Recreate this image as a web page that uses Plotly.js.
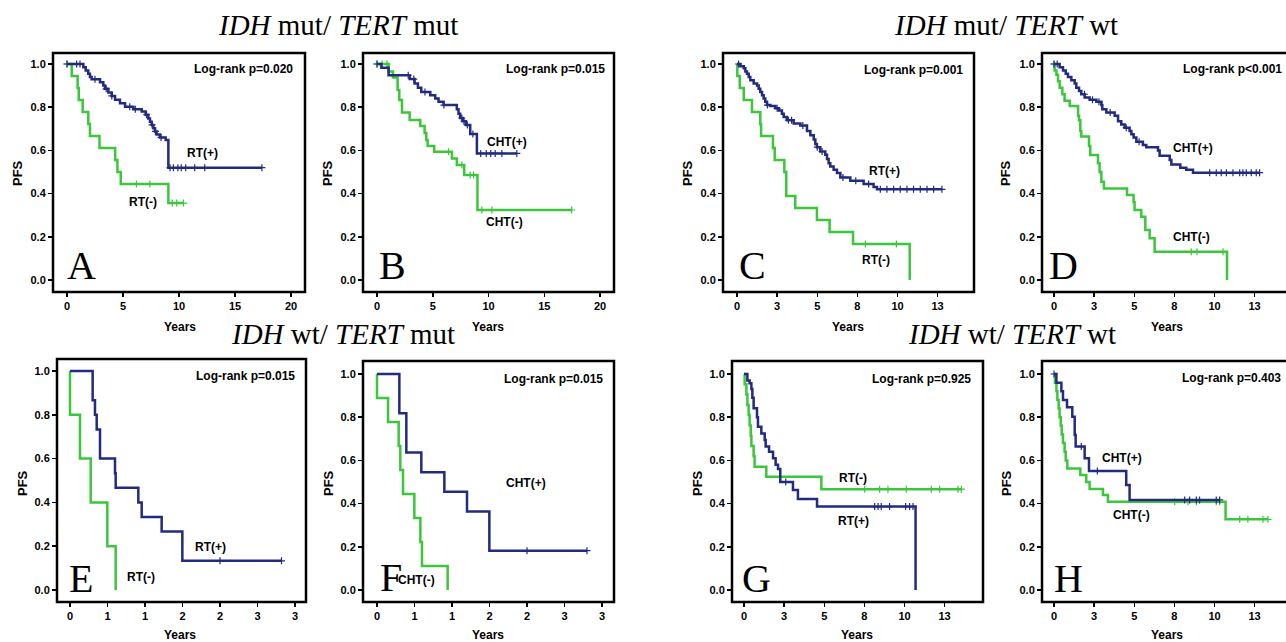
<!DOCTYPE html>
<html>
<head>
<meta charset="utf-8">
<script src="https://cdn.plot.ly/plotly-3.0.1.min.js"></script>
<style>html,body{margin:0;padding:0;background:#fff}#chart{width:1286px;height:642px}</style>
</head>
<body>
<div id="chart"></div>
<script>
// ---------------- DATA ----------------
// Panel A: IDH mut / TERT mut, RT
const A_pos_t = [1.46,1.67,1.9,2.05,2.2,2.95,3.24,3.39,3.69,3.99,4.29,4.73,5.18,5.92,6.67,7.02,7.26,7.41,7.56,7.71,7.86,8.0,8.3,8.81,9.05];
const A_pos_s = [0.985,0.97,0.955,0.94,0.929,0.915,0.9,0.885,0.868,0.852,0.835,0.818,0.802,0.79,0.78,0.765,0.748,0.733,0.718,0.703,0.688,0.674,0.66,0.648,0.52];
const A_pos_c = [0,0.86,1.16,2.5,3.5,4.0,5.6,6.1,7.1,7.6,7.9,8.4,9.2,9.5,9.9,10.2,10.6,11.4,12.3,17.4];
const A_neg_t = [0.42,0.95,1.05,1.4,1.9,2.05,2.9,4.3,4.5,4.8,9.05];
const A_neg_s = [0.944,0.889,0.833,0.778,0.722,0.667,0.611,0.556,0.5,0.444,0.356];
const A_neg_c = [0,6.2,7.4,9.4,9.8,10.4];
// Panel B: IDH mut / TERT mut, CHT
const B_pos_t = [0.39,1.04,2.93,3.37,3.67,3.97,4.78,5.22,5.52,5.97,7.16,7.31,7.46,7.7,7.97,8.36,8.96];
const B_pos_s = [0.983,0.948,0.93,0.91,0.89,0.87,0.855,0.84,0.825,0.81,0.79,0.77,0.75,0.735,0.718,0.676,0.586];
const B_pos_c = [0,2.8,3.3,4.3,6.0,7.6,7.8,8.1,8.6,9.3,9.8,10.2,10.6,11.2,12.54];
const B_neg_t = [1.04,1.43,1.85,2.0,2.24,2.93,3.88,4.27,4.42,4.54,5.13,6.72,7.16,7.82,9.01];
const B_neg_s = [0.965,0.938,0.88,0.833,0.775,0.741,0.713,0.68,0.648,0.62,0.594,0.563,0.532,0.486,0.324];
const B_neg_c = [0,0.45,0.9,6.42,7.61,8.36,8.66,9.4,10.3,17.46];
// Panel C: IDH mut / TERT wt, RT
const C_pos_t = [0.21,0.42,0.52,0.62,0.73,0.83,1.04,1.25,1.35,1.45,1.56,1.66,1.76,1.87,2.08,2.39,2.6,2.8,2.91,3.11,3.53,3.95,4.36,4.57,4.78,4.88,4.98,5.19,5.5,5.61,5.71,5.81,6.02,6.23,6.44,7.06,7.89,8.51,8.72];
const C_pos_s = [0.99,0.98,0.965,0.955,0.94,0.925,0.91,0.9,0.885,0.87,0.855,0.84,0.825,0.81,0.805,0.795,0.785,0.77,0.755,0.74,0.725,0.715,0.69,0.67,0.65,0.63,0.615,0.595,0.58,0.56,0.54,0.525,0.51,0.495,0.475,0.46,0.445,0.43,0.42];
const C_pos_c = [0.1,1.9,2.5,3.2,3.4,4.1,5.0,5.3,6.6,7.4,8.2,8.93,9.34,9.76,10.17,10.59,11.0,11.42,11.84,12.25,12.77];
const C_neg_t = [0.02,0.17,0.42,0.93,1.45,1.5,2.24,2.35,2.95,3.07,3.63,4.98,5.77,7.23,10.76];
const C_neg_s = [0.944,0.889,0.833,0.778,0.722,0.667,0.611,0.556,0.5,0.389,0.333,0.278,0.222,0.167,0];
const C_neg_c = [8.0,9.93];
// Panel D: IDH mut / TERT wt, CHT
const D_pos_t = [0.35,0.56,0.73,0.87,1.08,1.29,1.39,1.56,1.7,1.91,2.22,2.64,2.95,3.01,3.26,3.78,3.99,4.19,4.4,4.71,4.82,4.96,5.13,5.54,5.75,6.48,6.58,7.21,7.31,7.87,8.24,8.66];
const D_pos_s = [0.985,0.97,0.955,0.94,0.925,0.91,0.89,0.875,0.86,0.845,0.835,0.825,0.81,0.79,0.775,0.76,0.735,0.72,0.705,0.69,0.675,0.66,0.64,0.625,0.615,0.6,0.575,0.555,0.535,0.52,0.51,0.497];
const D_pos_c = [0,0.2,1.9,2.4,2.8,3.5,4.5,5.3,9.7,10.11,10.42,10.74,11.15,11.57,11.77,11.98,12.29,12.6,12.81];
const D_neg_t = [0.04,0.15,0.25,0.35,0.52,0.66,0.98,1.5,1.56,1.64,1.7,2.18,2.26,2.74,2.84,2.95,3.11,4.55,4.96,5.02,5.44,5.69,5.96,6.27,10.78];
const D_neg_s = [0.97,0.95,0.92,0.89,0.86,0.83,0.806,0.76,0.74,0.69,0.664,0.62,0.579,0.54,0.5,0.455,0.424,0.394,0.36,0.324,0.293,0.231,0.193,0.131,0];
const D_neg_c = [0,8.55,8.91,10.53];
// Panel E: IDH wt / TERT mut, RT
const E_pos_t = [0.302,0.333,0.356,0.4,0.6,0.609,0.911,0.956,1.222,1.498];
const E_pos_s = [0.867,0.8,0.733,0.6,0.533,0.467,0.4,0.333,0.267,0.133];
const E_pos_c = [2.0,2.82];
const E_neg_t = [0,0.133,0.276,0.498,0.609];
const E_neg_s = [0.8,0.6,0.4,0.2,0];
const E_neg_c = [];
// Panel F: IDH wt / TERT mut, CHT
const F_pos_t = [0.298,0.391,0.591,0.898,1.2,1.498];
const F_pos_s = [0.818,0.636,0.545,0.455,0.364,0.182];
const F_pos_c = [2.0,2.8];
const F_neg_t = [0,0.147,0.289,0.311,0.347,0.498,0.578,0.6,0.942];
const F_neg_s = [0.889,0.778,0.667,0.556,0.444,0.333,0.222,0.111,0];
const F_neg_c = [];
// Panel G: IDH wt / TERT wt, RT
const G_pos_t = [0.21,0.35,0.46,0.52,0.6,0.81,0.87,1.08,1.29,1.35,1.56,1.81,1.97,2.12,2.26,3.05,3.36,4.55,10.69];
const G_pos_s = [0.97,0.957,0.93,0.89,0.841,0.8,0.756,0.725,0.695,0.664,0.64,0.61,0.58,0.56,0.5,0.463,0.421,0.386,0];
const G_pos_c = [2.6,8.14,8.35,8.55,9.07,10.07,10.32,10.53];
const G_neg_t = [0.04,0.15,0.21,0.29,0.35,0.42,0.46,0.6,0.66,1.39,4.82];
const G_neg_s = [0.952,0.905,0.857,0.81,0.762,0.714,0.667,0.619,0.571,0.524,0.467];
const G_neg_c = [7.52,8.45,8.97,10.11,11.67,12.19,13.33,13.54];
// Panel H: IDH wt / TERT wt, CHT
const H_pos_t = [0.15,0.46,0.56,0.81,1.14,1.29,1.35,1.91,2.18,4.5,4.71];
const H_pos_s = [0.96,0.92,0.88,0.846,0.802,0.718,0.664,0.61,0.551,0.486,0.417];
const H_pos_c = [0,1.7,2.7,8.14,8.45,8.87,9.07,10.11,10.32];
const H_neg_t = [0.06,0.15,0.21,0.29,0.35,0.42,0.48,0.56,0.66,0.73,0.83,1.64,2.01,2.22,3.05,3.36,10.69];
const H_neg_s = [0.96,0.92,0.88,0.84,0.8,0.76,0.72,0.68,0.64,0.6,0.563,0.532,0.5,0.468,0.44,0.409,0.327];
const H_neg_c = [7.52,8.35,8.87,10.11,10.32,11.57,12.08,13.02,13.33];

// Tick labels
const Y_TICKS = [0,0.2,0.4,0.6,0.8,1.0];
const Y_TICK_TEXT = ['0.0','0.2','0.4','0.6','0.8','1.0'];
const XT20_VALS = [0,5,10,15,20];
const XT20_TEXT = ['0','5','10','15','20'];
const XT13_VALS = [0,2.5,5,7.5,10,12.5];
const XT13_TEXT = ['0','3','5','8','10','13'];
const XT3_VALS = [0,0.5,1,1.5,2,2.5,3];
const XT3_TEXT = ['0','1','1','2','2','3','3'];

// Text
const TITLES = ['<i>IDH</i> mut/ <i>TERT</i> mut','<i>IDH</i> mut/ <i>TERT</i> wt','<i>IDH</i> wt/ <i>TERT</i> mut','<i>IDH</i> wt/ <i>TERT</i> wt'];
const PVALUES = ['Log-rank p=0.020','Log-rank p=0.015','Log-rank p=0.001','Log-rank p<0.001','Log-rank p=0.015','Log-rank p=0.015','Log-rank p=0.925','Log-rank p=0.403'];
const LETTERS = ['A','B','C','D','E','F','G','H'];

// ---------------- STYLE / LAYOUT ----------------
const W = 1286, H = 642;
const NAVY = '#222b80', GREEN = '#3cc63c';
const SANS = 'Liberation Sans, Arial, sans-serif';
const SERIF = 'Liberation Serif, Times New Roman, serif';

// geometry in pixels: frame l,r,t,b ; x0 = px of x=0 ; ppu = px per x unit ; y1/y0 = px of y=1 / y=0
const panels = [
  {geo:{l:53,r:305,t:53,b:292,x0:67,ppu:11.2,y1:64,y0:280}, xv:XT20_VALS, xt:XT20_TEXT,
   g:[[A_neg_t,A_neg_s,A_neg_c,GREEN],[A_pos_t,A_pos_s,A_pos_c,NAVY]],
   lab:[['RT(+)',202,153],['RT(-)',143,202]], pv:[295,69], let:[81,265], pfs:[18,173], yrs:[180,327]},
  {geo:{l:363,r:614,t:53,b:292,x0:377,ppu:11.15,y1:64,y0:280}, xv:XT20_VALS, xt:XT20_TEXT,
   g:[[B_neg_t,B_neg_s,B_neg_c,GREEN],[B_pos_t,B_pos_s,B_pos_c,NAVY]],
   lab:[['CHT(+)',507,142],['CHT(-)',504,222]], pv:[607,69], let:[392,265], pfs:[328,173], yrs:[488,327]},
  {geo:{l:723,r:974,t:53,b:292,x0:737,ppu:16.05,y1:64,y0:280}, xv:XT13_VALS, xt:XT13_TEXT,
   g:[[C_neg_t,C_neg_s,C_neg_c,GREEN],[C_pos_t,C_pos_s,C_pos_c,NAVY]],
   lab:[['RT(+)',884,171],['RT(-)',876,260]], pv:[965,70], let:[752,265], pfs:[688,173], yrs:[848,327]},
  {geo:{l:1042,r:1293,t:53,b:292,x0:1054,ppu:16.05,y1:64,y0:280}, xv:XT13_VALS, xt:XT13_TEXT,
   g:[[D_neg_t,D_neg_s,D_neg_c,GREEN],[D_pos_t,D_pos_s,D_pos_c,NAVY]],
   lab:[['CHT(+)',1193,148],['CHT(-)',1191,237]], pv:[1284,69], let:[1063,265], pfs:[1006,173], yrs:[1167,327]},
  {geo:{l:57,r:306,t:359,b:602,x0:70,ppu:75,y1:371,y0:590}, xv:XT3_VALS, xt:XT3_TEXT,
   g:[[E_neg_t,E_neg_s,E_neg_c,GREEN],[E_pos_t,E_pos_s,E_pos_c,NAVY]],
   lab:[['RT(+)',210,547],['RT(-)',141,577]], pv:[297,376], let:[81,578], pfs:[22,483], yrs:[180,635]},
  {geo:{l:363,r:614,t:361,b:602,x0:377,ppu:75,y1:374,y0:590}, xv:XT3_VALS, xt:XT3_TEXT,
   g:[[F_neg_t,F_neg_s,F_neg_c,GREEN],[F_pos_t,F_pos_s,F_pos_c,NAVY]],
   lab:[['CHT(+)',526,483],['CHT(-)',416,580]], pv:[605,379], let:[391,577], pfs:[328,483], yrs:[488,635]},
  {geo:{l:732,r:983,t:361,b:602,x0:744,ppu:16.05,y1:374,y0:590}, xv:XT13_VALS, xt:XT13_TEXT,
   g:[[G_neg_t,G_neg_s,G_neg_c,GREEN],[G_pos_t,G_pos_s,G_pos_c,NAVY]],
   lab:[['RT(-)',853,478],['RT(+)',854,521]], pv:[973,379], let:[756,578], pfs:[697,483], yrs:[857,635]},
  {geo:{l:1042,r:1293,t:361,b:602,x0:1054,ppu:16.05,y1:374,y0:590}, xv:XT13_VALS, xt:XT13_TEXT,
   g:[[H_neg_t,H_neg_s,H_neg_c,GREEN],[H_pos_t,H_pos_s,H_pos_c,NAVY]],
   lab:[['CHT(+)',1122,458],['CHT(-)',1131,515]], pv:[1283,378], let:[1068,578], pfs:[1006,483], yrs:[1167,635]}
];
const titlePos = [[338,25],[1006,25],[343,334],[1012,334]];

function survAt(t, s, c) {
  let v = 1;
  for (let i = 0; i < t.length; i++) { if (t[i] <= c) v = s[i]; }
  return v;
}

const traces = [];
const layout = {
  width: W, height: H, margin: {l:0,r:0,t:0,b:0},
  paper_bgcolor: '#fff', plot_bgcolor: '#fff', showlegend: false,
  annotations: [], shapes: []
};
function pann(px, py, text, font, extra) {
  return Object.assign({xref:'paper', yref:'paper', x: px/W, y: 1 - py/H, text: text,
    showarrow:false, font: font, xanchor:'center', yanchor:'middle'}, extra || {});
}
const boldSans = (size) => ({family: SANS, size: size, color: '#000', weight: 'bold'});

panels.forEach((p, i) => {
  const k = i + 1;
  const ax = 'x' + (k === 1 ? '' : k), ay = 'y' + (k === 1 ? '' : k);
  const G = p.geo;
  const rClip = Math.min(G.r, W);
  const ppuY = G.y0 - G.y1;
  layout['xaxis' + (k === 1 ? '' : k)] = {
    domain: [G.l / W, rClip / W], anchor: ay,
    range: [(G.l - G.x0) / G.ppu, (rClip - G.x0) / G.ppu],
    tickvals: p.xv, ticktext: p.xt, ticks: 'outside', ticklen: 4, tickwidth: 1.5, tickcolor: '#000',
    showgrid: false, zeroline: false, showline: false, fixedrange: true,
    tickfont: boldSans(11)
  };
  layout['yaxis' + (k === 1 ? '' : k)] = {
    domain: [1 - G.b / H, 1 - G.t / H], anchor: ax,
    range: [(G.y0 - G.b) / ppuY, (G.y0 - G.t) / ppuY],
    tickvals: Y_TICKS, ticktext: Y_TICK_TEXT, ticks: 'outside', ticklen: 4, tickwidth: 1.5, tickcolor: '#000',
    showgrid: false, zeroline: false, showline: false, fixedrange: true,
    tickfont: boldSans(11)
  };
  layout.shapes.push({type:'rect', xref:'paper', yref:'paper', x0: G.l / W, x1: G.r / W,
    y0: 1 - G.b / H, y1: 1 - G.t / H, line: {color:'#000', width: 2.5}, fillcolor:'rgba(0,0,0,0)'});

  p.g.forEach(([t, s, c, color]) => {
    const cmax = c.length ? Math.max(...c) : 0;
    const end = Math.max(t[t.length - 1], cmax);
    const xs = [0].concat(t, [end]);
    const ys = [1].concat(s, [s[s.length - 1]]);
    traces.push({type:'scatter', mode:'lines', x: xs, y: ys, xaxis: ax, yaxis: ay,
      line: {shape:'hv', color: color, width: 2.5}, hoverinfo:'skip'});
    if (c.length) {
      traces.push({type:'scatter', mode:'markers', x: c, y: c.map(v => survAt(t, s, v)),
        xaxis: ax, yaxis: ay, hoverinfo:'skip', cliponaxis: false,
        marker: {symbol:'cross-thin', size: 5, color: color, line: {color: color, width: 1.2}}});
    }
  });

  layout.annotations.push(pann(p.pv[0], p.pv[1], PVALUES[i], boldSans(12), {xanchor:'right'}));
  p.lab.forEach(([txt, x, y]) => layout.annotations.push(pann(x, y, txt, boldSans(12))));
  layout.annotations.push(pann(p.let[0], p.let[1], LETTERS[i], {family: SERIF, size: 40, color:'#000'}));
  layout.annotations.push(pann(p.pfs[0], p.pfs[1], 'PFS', boldSans(13), {textangle: -90}));
  layout.annotations.push(pann(p.yrs[0], p.yrs[1], 'Years', boldSans(12)));
});

TITLES.forEach((t, i) => {
  layout.annotations.push(pann(titlePos[i][0], titlePos[i][1], t, {family: SERIF, size: 29, color:'#000'}));
});

Plotly.newPlot('chart', traces, layout, {displayModeBar: false, staticPlot: true});
</script>
</body>
</html>
